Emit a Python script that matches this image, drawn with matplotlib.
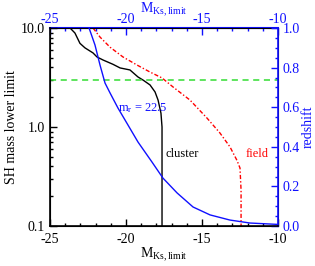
import matplotlib
matplotlib.use('Agg')
import matplotlib.pyplot as plt
from matplotlib.ticker import MultipleLocator, FixedLocator, FixedFormatter, LogLocator, NullFormatter

plt.rcParams['font.family'] = ['Liberation Serif', 'DejaVu Serif']
plt.rcParams['mathtext.fontset'] = 'custom'
plt.rcParams['mathtext.rm'] = 'Liberation Serif'
plt.rcParams['mathtext.it'] = 'Liberation Serif:italic'
plt.rcParams['axes.unicode_minus'] = False

# cluster: SH mass lower limit vs M_Ks,limit
cluster_m = [-23.68, -23.36, -23.03, -22.70, -22.17, -21.91, -21.51, -20.86, -20.39,
             -19.74, -19.21, -18.88, -18.42, -18.09, -17.89, -17.70, -17.63, -17.63, -17.63]
cluster_mass = [10.0, 8.9, 7.0, 6.3, 5.6, 5.1, 4.75, 4.3, 3.95,
                3.77, 3.2, 2.98, 2.66, 2.26, 1.87, 1.38, 1.0, 0.63, 0.1]

# field
field_m = [-22.17, -21.71, -21.05, -20.20, -19.28, -18.42, -17.63, -16.91, -15.79,
           -14.67, -13.82, -13.16, -12.70, -12.50, -12.43, -12.43]
field_mass = [10.0, 8.1, 6.4, 5.1, 4.23, 3.59, 3.13, 2.54, 1.87,
              1.23, 0.87, 0.63, 0.46, 0.385, 0.23, 0.1]

# m_r = 22.5 limit: redshift vs M_Ks,limit
mr_m = [-22.43, -22.04, -21.71, -21.38, -21.05, -20.53, -19.87, -19.21, -18.29,
        -17.57, -16.64, -15.59, -14.47, -13.16, -11.84, -10.0]
mr_z = [1.0, 0.914, 0.813, 0.722, 0.672, 0.596, 0.51, 0.424, 0.323,
        0.242, 0.167, 0.096, 0.056, 0.030, 0.015, 0.008]

mass_cut = 3.0
m_ticks = [-25, -20, -15, -10]

fig = plt.figure(figsize=(3.15, 2.66), dpi=100)
ax = fig.add_axes([50/315, 40/266, 228/315, 198/266])
blue = '#1010ff'

ax.plot(cluster_m, cluster_mass, color='black', lw=1.0)
ax.plot(field_m, field_mass, color='red', lw=1.0, ls=(0, (3, 1.5, 1, 1.5)))
ax.axhline(mass_cut, color='#33dd33', lw=1.1, ls=(0, (4, 3)))
ax.set_yscale('log')
ax.set_xlim(-25, -10)
ax.set_ylim(0.1, 10)
ax.yaxis.set_major_locator(FixedLocator([0.1, 1.0, 10.0]))
ax.yaxis.set_major_formatter(FixedFormatter(['0.1', '1.0', '10.0']))
ax.yaxis.set_minor_locator(LogLocator(base=10, subs=range(2, 10)))
ax.yaxis.set_minor_formatter(NullFormatter())
ax.xaxis.set_major_locator(FixedLocator(m_ticks))
ax.xaxis.set_minor_locator(MultipleLocator(1))
ax.tick_params(which='both', direction='in', labelsize=10, width=1.0)
ax.tick_params(which='major', length=5)
ax.tick_params(which='minor', length=2.5)
ax.tick_params(axis='x', pad=5)
ax.set_xlabel(r'M$_{\rm Ks,limit}$', fontsize=10, labelpad=0)
ax.set_ylabel('SH mass lower limit', fontsize=10, labelpad=2)
ax.text(-17.43, 0.53, 'cluster', color='black', fontsize=9, ha='left', va='center')
ax.text(-12.1, 0.53, 'field', color='red', fontsize=9, ha='left', va='center')

ax2 = ax.twinx()
ax2.plot(mr_m, mr_z, color=blue, lw=1.0)
ax2.set_ylim(0, 1.0)
ax2.yaxis.set_major_locator(MultipleLocator(0.2))
ax2.yaxis.set_minor_locator(MultipleLocator(0.05))
ax2.yaxis.set_major_formatter(plt.FuncFormatter(lambda v, p: f'{v:.1f}'))
ax2.tick_params(which='both', direction='in', colors=blue, labelsize=10, width=1.0)
ax2.tick_params(which='major', length=5)
ax2.tick_params(which='minor', length=2.5)
ax2.set_ylabel('redshift', color=blue, fontsize=10, labelpad=1)
ax2.text(-20.53, 0.596, r'm$_{\rm r}$ = 22.5', color=blue, fontsize=9, ha='left', va='center')

for s in ['left', 'bottom']:
    ax2.spines[s].set_color('black')
    ax2.spines[s].set_linewidth(1.2)
ax2.spines['right'].set_color(blue)
ax2.spines['right'].set_linewidth(1.2)
ax2.spines['top'].set_visible(False)

top = ax.secondary_xaxis('top')
top.xaxis.set_major_locator(FixedLocator(m_ticks))
top.xaxis.set_minor_locator(MultipleLocator(1))
top.tick_params(which='both', direction='in', colors=blue, labelsize=10, width=1.0, pad=1.5)
top.tick_params(which='major', length=5)
top.tick_params(which='minor', length=2.5)
top.spines['top'].set_color(blue)
top.spines['top'].set_linewidth(1.5)
top.set_xlabel(r'M$_{\rm Ks,limit}$', color=blue, fontsize=10, labelpad=0)

fig.savefig('out.png', dpi=100)
